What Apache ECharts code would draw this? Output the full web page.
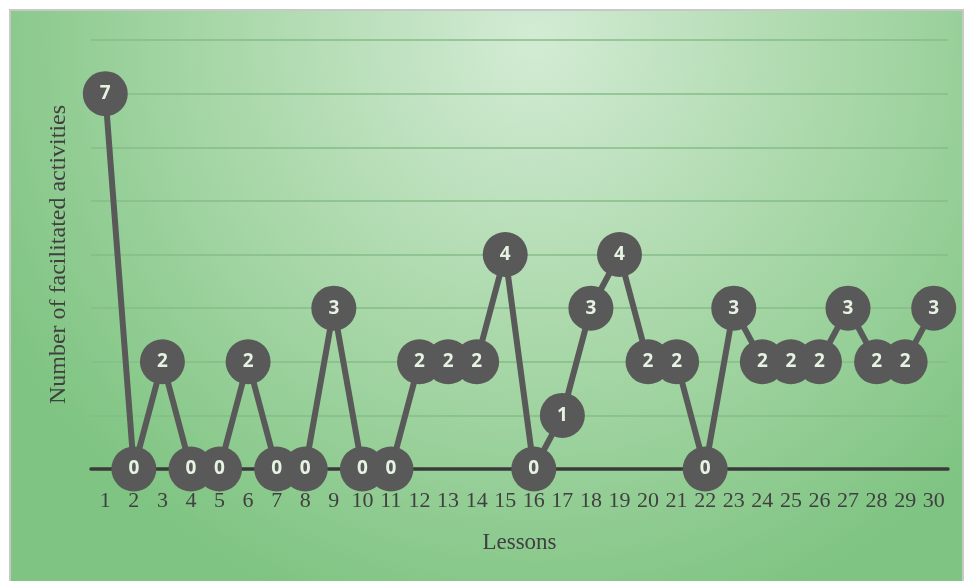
<!DOCTYPE html>
<html>
<head>
<meta charset="utf-8">
<script src="https://cdn.jsdelivr.net/npm/echarts@6/dist/echarts.min.js"></script>
<style>
  html, body { margin: 0; padding: 0; background: #fff; }
  #main { width: 964px; height: 581px; }
</style>
</head>
<body>
<div id="main"></div>
<script>
// lessons 1..30 and number of facilitated activities per lesson
const lessons = ['1','2','3','4','5','6','7','8','9','10','11','12','13','14','15',
  '16','17','18','19','20','21','22','23','24','25','26','27','28','29','30']
const activities = [7, 0, 2, 0, 0, 2, 0, 0, 3, 0, 0, 2, 2, 2, 4,
  0, 1, 3, 4, 2, 2, 0, 3, 2, 2, 2, 3, 2, 2, 3]

const chart = echarts.init(document.getElementById('main'))

chart.setOption({
  animation: false,
  graphic: [
    {
      type: 'rect',
      z: -10,
      shape: { x: 10, y: 10, width: 953, height: 575 },
      style: {
        fill: {
          type: 'radial', x: 0.55, y: 0.05, r: 1.05,
          colorStops: [
            { offset: 0, color: '#d3ebd4' },
            { offset: 0.55, color: '#a6d6a6' },
            { offset: 1, color: '#7fc482' }
          ]
        },
        stroke: '#c8c8c8',
        lineWidth: 2
      }
    }
  ],
  grid: { left: 91, right: 16, top: 40, bottom: 112 },
  xAxis: {
    type: 'category',
    data: lessons,
    name: 'Lessons',
    nameLocation: 'middle',
    nameGap: 62,
    nameTextStyle: { fontFamily: 'Liberation Serif', fontSize: 23, color: '#404040' },
    axisLine: { lineStyle: { color: '#3a3a3a', width: 3.5 } },
    axisTick: { show: false },
    axisLabel: { fontFamily: 'Liberation Serif', fontSize: 22, color: '#404040', margin: 21, interval: 0 }
  },
  yAxis: {
    type: 'value',
    min: 0,
    max: 8,
    interval: 1,
    name: 'Number of facilitated activities',
    nameLocation: 'middle',
    nameGap: 20,
    nameTextStyle: { fontFamily: 'Liberation Serif', fontSize: 24, color: '#404040' },
    axisLine: { show: false },
    axisTick: { show: false },
    axisLabel: { show: false },
    splitLine: { lineStyle: { color: '#86bd88', width: 1.5 } }
  },
  series: [
    {
      type: 'line',
      data: activities,
      symbol: 'circle',
      symbolSize: 45,
      lineStyle: { color: '#595959', width: 6 },
      itemStyle: { color: '#595959' },
      label: {
        show: true,
        position: 'inside',
        color: '#e6f2e2',
        fontFamily: 'Noto Sans',
        fontWeight: 'bold',
        fontSize: 19
      }
    }
  ]
})
</script>
</body>
</html>
